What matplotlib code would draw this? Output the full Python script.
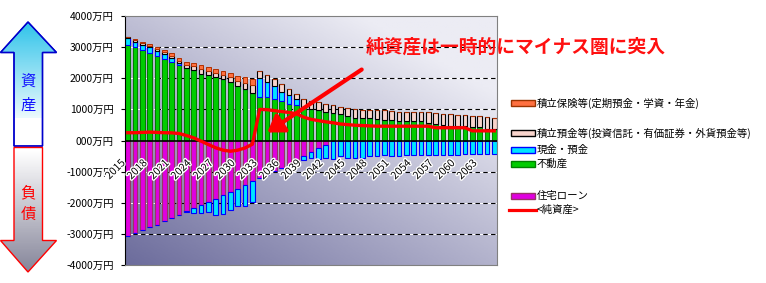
import numpy as np
import matplotlib
matplotlib.use("Agg")
import matplotlib.pyplot as plt
import matplotlib.patheffects as pe
from matplotlib.patches import Polygon, Rectangle, FancyArrowPatch
from matplotlib.colors import LinearSegmentedColormap
from matplotlib.transforms import offset_copy

plt.rcParams['font.family'] = ['Noto Sans CJK JP', 'DejaVu Sans']

# DATA (万円)
years = list(range(2015, 2066))
real_estate = [3080, 2990, 2910, 2810, 2720, 2630, 2530, 2430, 2340, 2270,
               2150, 2100, 2040, 1970, 1890, 1750, 1650, 1540, 1410, 1410,
               1320, 1270, 1180, 1150, 1075, 1000, 980, 925, 870, 840,
               780, 730, 710, 710, 680, 655, 655, 625, 625, 625,
               625, 570, 540, 505, 475, 460, 460, 430, 420, 375, 355]
cash = [200, 190, 170, 180, 160, 140, 120, 50, -30, -160,
        -250, -320, -520, -600, -570, -570, -650, -680, 590, 470,
        430, 290, 270, 180, -110, -180, -350, -400, -570, -510,
        -560, -560, -560, -510, -510, -450, -500, -500, -480, -450,
        -450, -450, -450, -450, -450, -450, -420, -420, -420, -420, -420]
savings = [30, 50, 60, 60, 60, 70, 80, 80, 90, 110,
           140, 120, 130, 140, 150, 160, 200, 250, 220, 215,
           215, 250, 215, 160, 270, 270, 260, 260, 260, 250,
           265, 270, 270, 270, 300, 320, 290, 300, 300, 300,
           300, 330, 330, 335, 365, 345, 345, 355, 365, 380, 375]
insurance = [20, 20, 30, 50, 50, 70, 80, 90, 100, 110,
             140, 130, 120, 130, 120, 160, 180, 180] + [0] * 33
mortgage = [-3065, -2980, -2870, -2785, -2710, -2600, -2495, -2390, -2280, -2170,
            -2085, -1980, -1870, -1765, -1655, -1550, -1440, -1310, -1200, -1100,
            -990, -880, -775, -665, -505, -375, -240, -160, -20] + [0] * 22
net_assets = [250, 250, 260, 270, 260, 250, 245, 225, 160, 85,
              -20, -130, -235, -310, -345, -310, -240, -120, 1000, 990,
              960, 930, 900, 860, 750, 680, 640, 600, 570, 530,
              510, 490, 480, 470, 460, 460, 460, 460, 460, 460,
              460, 460, 410, 410, 410, 410, 410, 310, 310, 310, 310]
label_years = years[::3]
y_ticks = [4000, 3000, 2000, 1000, 0, -1000, -2000, -3000, -4000]
y_labels = ['4000万円', '3000万円', '2000万円', '1000万円', '000万円',
            '-1000万円', '-2000万円', '-3000万円', '-4000万円']

legend_labels = ['積立保険等(定期預金・学資・年金)',
                 '積立預金等(投資信託・有価証券・外貨預金等)',
                 '現金・預金', '不動産', '住宅ローン', '<純資産>']

W, H = 766, 283
fig = plt.figure(figsize=(W / 100, H / 100), dpi=100)
ax = fig.add_axes([125 / W, 1 - 265 / H, (497 - 125) / W, (265 - 16) / H])

x = np.arange(len(years))
re = np.array(real_estate, float)
cs = np.array(cash, float)
sv = np.array(savings, float)
ins = np.array(insurance, float)
mg = np.array(mortgage, float)
cash_pos = np.clip(cs, 0, None)
cash_neg = np.clip(cs, None, 0)

# gradient background of plot area
xl = (-0.375, len(years) - 0.625)
u = np.linspace(0, 1, 200)[None, :]
v = np.linspace(1, 0, 100)[:, None]
t = np.clip(0.55 * u + 0.65 * v, 0, 1)
bg_cmap = LinearSegmentedColormap.from_list('bg', ['#6c6c9c', '#ececf4'])
ax.imshow(t, cmap=bg_cmap, extent=[xl[0], xl[1], -4000, 4000], aspect='auto', zorder=0,
          vmin=0, vmax=1)

for gy in [3000, 2000, 1000, -1000, -2000, -3000]:
    ax.axhline(gy, color='white', lw=0.7, zorder=1)
    ax.axhline(gy, color='black', lw=0.8, ls=(0, (4, 3)), zorder=1.1)

bw = 0.62
ax.bar(x, re, bw, color='#00cc00', edgecolor='#007a00', lw=0.7, zorder=2)
ax.bar(x, cash_pos, bw, bottom=re, color='#00e5ff', edgecolor='#0000ff', lw=0.8, zorder=2)
ax.bar(x, sv, bw, bottom=re + cash_pos, color='#f8d4cc', edgecolor='black', lw=0.8, zorder=2)
ax.bar(x, ins, bw, bottom=re + cash_pos + sv, color='#ff7040', edgecolor='#b03000', lw=0.7, zorder=2)
ax.bar(x, mg, bw, color='#e000e0', edgecolor='#993366', lw=0.8, zorder=2)
ax.bar(x, cash_neg, bw, bottom=mg, color='#00e5ff', edgecolor='#0000ff', lw=0.8, zorder=2)

ax.axhline(0, color='black', lw=1.2, zorder=4)
ax.plot(x, net_assets, color='#ff0000', lw=2.4, zorder=6, solid_joinstyle='round')

ax.set_xlim(*xl)
ax.set_ylim(-4000, 4000)
ax.set_xticks([])
ax.set_yticks(y_ticks)
ax.set_yticklabels(y_labels, fontsize=7.5)
ax.tick_params(axis='y', length=3, pad=5)
for s in ['top', 'right', 'bottom']:
    ax.spines[s].set_color('#808080')
    ax.spines[s].set_linewidth(0.8)
ax.spines['left'].set_color('black')

# year labels at the zero axis
trans = offset_copy(ax.transData, fig=fig, x=-3.0, y=-15.0, units='points')
for yr in label_years:
    ax.text(years.index(yr), 0, str(yr), transform=trans, rotation=45,
            rotation_mode='anchor', ha='right', va='center', fontsize=7.5,
            color='black', zorder=7, clip_on=False,
            path_effects=[pe.withStroke(linewidth=2, foreground='white')])

# overlay in pixel coordinates
ov = fig.add_axes([0, 0, 1, 1], zorder=10)
ov.set_xlim(0, W)
ov.set_ylim(H, 0)
ov.axis('off')
ov.patch.set_alpha(0)

def grad_poly(verts, top_col, bot_col, y0, y1, edge):
    cm = LinearSegmentedColormap.from_list('g', [top_col, bot_col])
    g = np.linspace(0, 1, 100)[:, None]
    im = ov.imshow(g, cmap=cm, extent=[0, 60, y1, y0], aspect='auto', zorder=1)
    poly = Polygon(verts, closed=True, facecolor='none', edgecolor=edge, lw=1, zorder=2)
    ov.add_patch(poly)
    im.set_clip_path(poly)

up_verts = [(28, 22), (56.5, 52.5), (42.5, 52.5), (42.5, 146), (14, 146), (14, 52.5), (0.5, 52.5)]
grad_poly(up_verts, '#30c4ea', '#ffffff', 22, 128, '#0000cc')
ov.add_patch(Rectangle((14, 118), 28.5, 28, facecolor='white', edgecolor='none', zorder=1.5))
ov.add_patch(Polygon(up_verts, closed=True, facecolor='none', edgecolor='#0000cc', lw=1, zorder=2))
dn_verts = [(14, 147.5), (42.5, 147.5), (42.5, 240.5), (56.5, 240.5), (28, 272), (0.5, 240.5), (14, 240.5)]
grad_poly(dn_verts, '#ffffff', '#86869a', 150, 272, '#ff0000')

for ch, yy in [('資', 81), ('産', 105)]:
    ov.text(28, yy, ch, color='#1010ff', fontsize=11, ha='center', va='center', zorder=3)
for ch, yy in [('負', 193), ('債', 214)]:
    ov.text(28, yy, ch, color='#ff0000', fontsize=11, ha='center', va='center', zorder=3)

# legend
leg_items = [
    (103, '#ff7040', '#993300', legend_labels[0]),
    (133, '#f8d4cc', 'black', legend_labels[1]),
    (150, '#00e5ff', '#0000ff', legend_labels[2]),
    (164, '#00cc00', '#008000', legend_labels[3]),
    (196, '#e000e0', '#993366', legend_labels[4]),
]
for yy, fc, ec, lab in leg_items:
    ov.add_patch(Rectangle((511, yy - 3), 24, 6, facecolor=fc, edgecolor=ec, lw=1, zorder=3))
    ov.text(537, yy, lab, fontsize=7.5, ha='left', va='center', zorder=3)
ov.plot([509, 536], [210, 210], color='#ff0000', lw=2.3, zorder=3)
ov.text(537, 210, legend_labels[5], fontsize=7.5, ha='left', va='center', zorder=3)

# callout
ov.text(516, 47, '純資産は一時的にマイナス圏に突入', color='#ff1010', fontsize=13.5,
        fontweight='bold', ha='center', va='center', zorder=5)
ov.add_patch(FancyArrowPatch((364, 68), (265, 134), arrowstyle='-|>,head_length=6,head_width=4',
                             color='#ff0000', lw=3, mutation_scale=1.6, zorder=5))

fig.savefig('out.png', dpi=100)
